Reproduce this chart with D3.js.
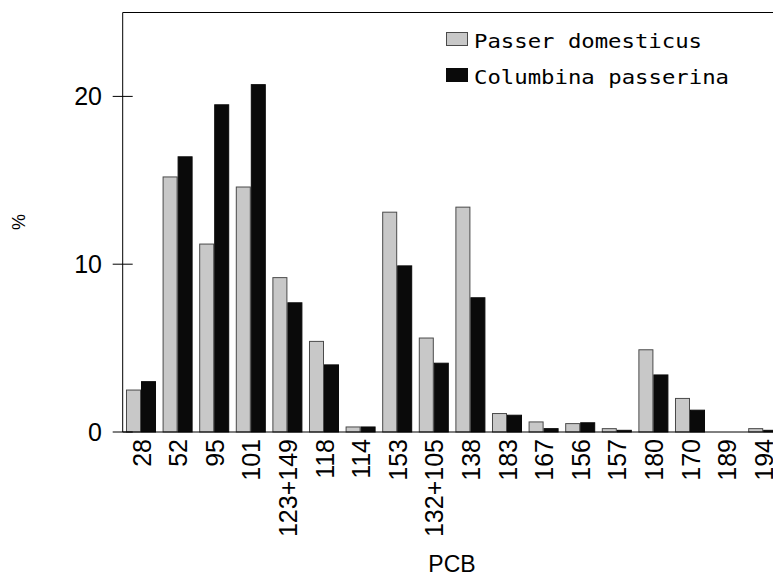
<!DOCTYPE html>
<html>
<head>
<meta charset="utf-8">
<script src="https://cdn.jsdelivr.net/npm/d3@7"></script>
<style>
  body { margin: 0; background: #fff; }
  svg { display: block; }
  text { font-family: "Liberation Sans", Arial, sans-serif; fill: #000; }
</style>
</head>
<body>
<div id="chart"></div>
<script>
// PCB congener profiles (%)
const categories = ['28', '52', '95', '101', '123+149', '118', '114', '153', '132+105', '138',
                    '183', '167', '156', '157', '180', '170', '189', '194'];
const passer = [2.5, 15.2, 11.2, 14.6, 9.2, 5.4, 0.3, 13.1, 5.6, 13.4,
                1.1, 0.6, 0.5, 0.2, 4.9, 2.0, 0, 0.2];
const columbina = [3.0, 16.4, 19.5, 20.7, 7.7, 4.0, 0.3, 9.9, 4.1, 8.0,
                   1.0, 0.2, 0.55, 0.1, 3.4, 1.3, 0, 0.1];
const seriesNames = ['Passer domesticus', 'Columbina passerina'];
const yTicks = [0, 10, 20];

const width = 773, height = 575;
const plotLeft = 122.7, plotTop = 12.5, plotBottom = 432;

const svg = d3.select('#chart')
    .append('svg')
    .attr('width', width)
    .attr('height', height);

const x = d3.scaleBand()
    .domain(categories)
    .range([plotLeft, plotLeft + 18 * 36.6])
    .paddingInner(0.18)
    .paddingOuter(0.09);

const xs = d3.scaleBand()
    .domain([0, 1])
    .range([0, x.bandwidth()]);

const y = d3.scaleLinear()
    .domain([0, 25])
    .range([plotBottom, plotTop]);

const colors = ['#c8c8c8', '#0a0a0a'];
const strokes = ['#4a4a4a', '#0a0a0a'];

// bars
const rows = categories.map((c, i) => ({ cat: c, vals: [passer[i], columbina[i]] }));

const groups = svg.append('g')
    .selectAll('g')
    .data(rows)
    .enter().append('g')
    .attr('transform', d => `translate(${x(d.cat)},0)`);

groups.selectAll('rect')
    .data(d => d.vals.map((v, k) => ({ v, k })).filter(d => d.v > 0))
    .enter().append('rect')
    .attr('x', d => xs(d.k) + 0.5)
    .attr('width', xs.bandwidth() - 1)
    .attr('y', d => y(d.v))
    .attr('height', d => plotBottom - y(d.v))
    .style('fill', d => colors[d.k])
    .style('stroke', d => strokes[d.k])
    .style('stroke-width', 1);

// frame: left axis, top border, baseline
svg.append('path')
    .attr('d', `M${width},${plotTop}H${plotLeft}V${plotBottom}H${width}`)
    .style('fill', 'none')
    .style('stroke', '#000')
    .style('stroke-width', 1);

// y ticks cross the axis
const yAxis = svg.append('g');
yAxis.selectAll('line')
    .data(yTicks)
    .enter().append('line')
    .attr('x1', plotLeft - 10)
    .attr('x2', plotLeft + 10)
    .attr('y1', d => y(d))
    .attr('y2', d => y(d))
    .style('stroke', '#000');

yAxis.selectAll('text')
    .data(yTicks)
    .enter().append('text')
    .attr('x', 102)
    .attr('y', d => y(d) + 9)
    .attr('text-anchor', 'end')
    .style('font-size', '25px')
    .text(d => d);

// x labels, rotated and centred on each group
svg.append('g')
    .selectAll('text')
    .data(categories)
    .enter().append('text')
    .attr('transform', d => `translate(${x(d) + x.bandwidth() / 2 + 9.5},439) rotate(-90)`)
    .attr('text-anchor', 'end')
    .style('font-size', '25px')
    .text(d => d);

// axis titles
svg.append('text')
    .attr('x', 452)
    .attr('y', 572)
    .attr('text-anchor', 'middle')
    .style('font-size', '23px')
    .text('PCB');

svg.append('text')
    .attr('transform', 'translate(25,222) rotate(-90)')
    .attr('text-anchor', 'middle')
    .style('font-size', '18px')
    .text('%');

// legend
const legend = svg.append('g')
    .selectAll('g')
    .data(seriesNames)
    .enter().append('g')
    .attr('transform', (d, i) => `translate(446,${32 + i * 36})`);

legend.append('rect')
    .attr('x', 0.5)
    .attr('y', 0.5)
    .attr('width', 21)
    .attr('height', 13)
    .style('fill', (d, i) => colors[i])
    .style('stroke', (d, i) => strokes[i]);

legend.append('text')
    .attr('x', 28)
    .attr('y', 15.5)
    .attr('textLength', d => d.length * 13.5 - 1.5)
    .attr('lengthAdjust', 'spacingAndGlyphs')
    .style('font-family', '"DejaVu Sans Mono", monospace')
    .style('font-size', '20px')
    .text(d => d);
</script>
</body>
</html>
